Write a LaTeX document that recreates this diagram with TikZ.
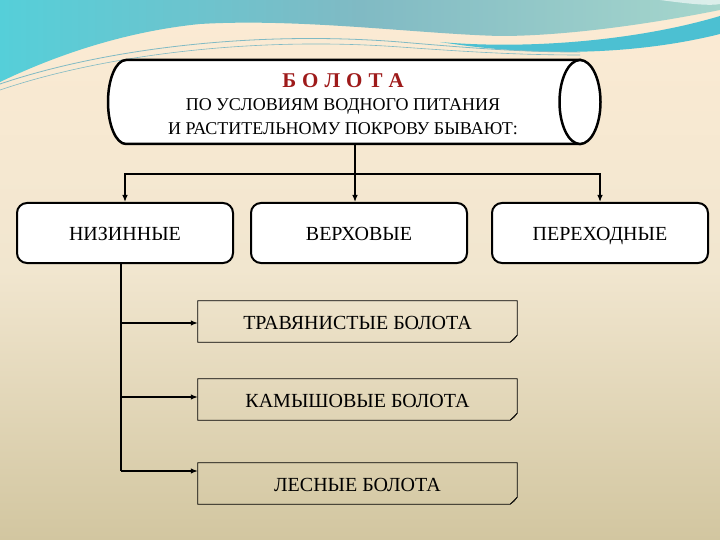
\documentclass[tikz,border=0pt]{standalone}
\usepackage{fontspec}
\setmainfont{Liberation Serif}
\usetikzlibrary{arrows.meta,positioning,calc}
\definecolor{bgtop}{HTML}{FCEBD4}
\definecolor{bgmid}{HTML}{F1E6CF}
\definecolor{bgbot}{HTML}{D2C6A0}
\definecolor{seaL}{HTML}{55CFD9}
\definecolor{seaM}{HTML}{80BAC4}
\definecolor{seaR}{HTML}{A6D6CC}
\definecolor{seaB}{HTML}{4CC0D2}
\definecolor{bogred}{HTML}{9E1A1A}

\begin{document}
\begin{tikzpicture}[x=1pt,y=-1pt,
    kind/.style={draw,line width=2pt,rounded corners=10pt,fill=white,minimum width=216pt,minimum height=60pt,inner sep=0pt,text height=15pt,text depth=0pt,font=\fontsize{20}{22}\selectfont},
    sub/.style={minimum width=319pt,minimum height=41pt,inner sep=0pt,text height=15pt,text depth=0pt,font=\fontsize{20}{22}\selectfont},
    link/.style={line width=1.2pt},
    arr/.style={link,-{Latex[length=7pt,width=5.5pt]}}]
    \useasboundingbox (0,0) rectangle (720,540);
    \shade[top color=bgtop,bottom color=bgbot,middle color=bgmid] (0,0) rectangle (720,540);
    % waves at the top
    \begin{scope}
    \clip (0,0) rectangle (720,540);
    \shade[left color=seaL,right color=seaR,middle color=seaM] (0,0) -- (720,0) -- (720,10) .. controls (640,26) and (560,36) .. (500,36) .. controls (420,34) and (300,18) .. (200,24) .. controls (120,32) and (50,58) .. (0,82) -- cycle;
    \fill[seaB] (440,42) .. controls (530,50) and (640,40) .. (720,16) -- (720,34) .. controls (640,54) and (540,58) .. (440,42) -- cycle;
    \fill[white,opacity=0.6] (660,0) .. controls (690,4) and (710,6) .. (720,4) -- (720,0) -- cycle;
    \draw[seaM,line width=0.8pt] (0,84) .. controls (100,50) and (250,30) .. (400,42) .. controls (470,48) and (520,52) .. (580,52);
    \draw[seaM,line width=0.6pt] (0,90) .. controls (100,56) and (250,36) .. (400,47) .. controls (470,52) and (520,55) .. (580,55);
    \end{scope}
    % scroll
    \draw[line width=2.5pt,fill=white] (580,60) -- (126,60) arc[start angle=-90,end angle=-270,x radius=18,y radius=42] -- (580,144) -- cycle;
    \draw[line width=2.5pt,fill=white] (580,102) ellipse[x radius=20.5,y radius=42];
    \node[text=bogred,font=\fontsize{21}{23}\selectfont\bfseries] (title) at (343,81) {Б\hspace{6pt}О\hspace{6pt}Л\hspace{6pt}О\hspace{6pt}Т\hspace{6pt}А};
    \node[font=\fontsize{18}{24}\selectfont,align=center] (head) at (343,117) {ПО УСЛОВИЯМ ВОДНОГО ПИТАНИЯ\\И РАСТИТЕЛЬНОМУ ПОКРОВУ БЫВАЮТ:};
    % three kinds
    \node[kind] (niz) at (125,233) {НИЗИННЫЕ};
    \node[kind] (verh) at (359,233) {ВЕРХОВЫЕ};
    \node[kind] (perekh) at (600,233) {ПЕРЕХОДНЫЕ};
    \node[sub] (trav) at (357.5,321.5) {ТРАВЯНИСТЫЕ БОЛОТА};
    \node[sub] (kamysh) at (357.5,399.5) {КАМЫШОВЫЕ БОЛОТА};
    \node[sub] (les) at (357.5,483.5) {ЛЕСНЫЕ БОЛОТА};
    \foreach \n in {trav,kamysh,les}{
      \draw[line width=0.8pt] (\n.north west) -- (\n.north east) -- ([yshift=7pt]\n.south east) -- ([xshift=-7pt]\n.south east) -- (\n.south west) -- cycle;
      \draw[line width=0.6pt] ([yshift=7pt]\n.south east) -- ([xshift=-3pt,yshift=3pt]\n.south east) -- ([xshift=-7pt]\n.south east);
    }
    % connectors
    \coordinate (scrollbot) at (355,144);
    \coordinate (fork) at (355,174);
    \draw[link] (scrollbot) -- (fork);
    \draw[arr] (fork) -| (niz.north);
    \draw[arr] (fork) -| (perekh.north);
    \draw[arr] (fork) -- (fork |- verh.north);
    \coordinate (b1) at (121,323);
    \coordinate (b2) at (121,397);
    \coordinate (b3) at (121,471);
    \draw[link] (niz.south -| b1) -- (b3);
    \draw[arr] (b1) -- (b1 -| trav.west);
    \draw[arr] (b2) -- (b2 -| kamysh.west);
    \draw[arr] (b3) -- (b3 -| les.west);
\end{tikzpicture}
\end{document}
